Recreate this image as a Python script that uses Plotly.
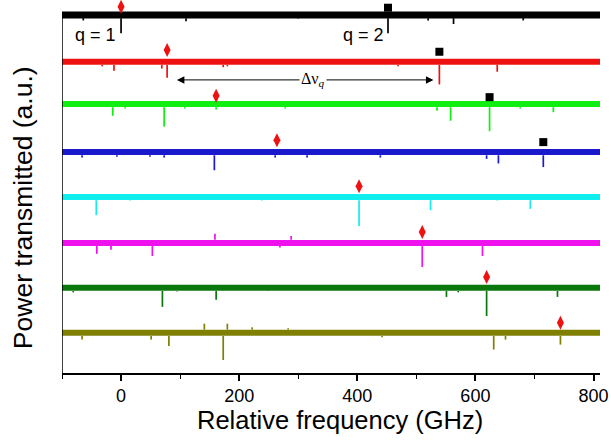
import plotly.graph_objects as go

# ---------------- data ----------------
x_range = [-100, 811]
y_range = [-7.886, 0.286]
trace_colors = ["#000000", "#ee1111", "#11ee11", "#1a1acc", "#11eeee", "#ee11ee", "#0a780a", "#7f7f00"]
offsets = [0.0, -1.03, -1.96, -3.02, -4.01, -5.02, -6.01, -7.0]

# spikes per trace: (frequency GHz, depth in a.u.; negative = dip, positive = upward)
spikes = [
    [(0, -0.40), (452, -0.40), (-64, -0.12), (110, -0.14), (520, -0.12), (563, -0.2), (681, -0.12), (300, -0.08)],
    [(78, -0.35), (539, -0.50), (-12, -0.2), (69, -0.15), (-32, -0.1), (173, -0.12), (180, -0.1), (469, -0.1), (637, -0.22)],
    [(73, -0.50), (624, -0.60), (558, -0.37), (-14, -0.26), (161, -0.12), (535, -0.15), (7, -0.1), (108, -0.1), (278, -0.1), (676, -0.1), (732, -0.18)],
    [(158, -0.40), (715, -0.33), (639, -0.25), (619, -0.15), (-66, -0.12), (261, -0.12), (-7, -0.1), (73, -0.12), (315, -0.12), (439, -0.12), (49, -0.1)],
    [(-42, -0.40), (403, -0.64), (524, -0.29), (693, -0.26), (15, -0.08), (239, -0.08), (637, -0.08)],
    [(-41, -0.24), (-17, -0.15), (53, -0.29), (510, -0.53), (612, -0.29), (269, -0.1), (159, 0.2), (288, 0.15)],
    [(70, -0.42), (161, -0.26), (619, -0.62), (551, -0.2), (739, -0.2), (-81, -0.1), (95, -0.08), (571, -0.1), (249, -0.06)],
    [(173, -0.60), (631, -0.37), (744, -0.26), (81, -0.29), (-66, -0.15), (51, -0.15), (141, 0.2), (180, 0.2), (222, 0.12), (283, 0.1), (442, -0.1), (651, -0.15)],
]

# q = 1 mode (diamonds) and q = 2 mode (squares)
q1_freq = [0, 78, 161, 264, 403, 510, 619, 744]
q1_height = [0.18, 0.26, 0.18, 0.26, 0.24, 0.24, 0.24, 0.22]
q2_freq = [452, 539, 624, 715]
q2_height = [0.16, 0.22, 0.15, 0.22]

x_title = "Relative frequency (GHz)"
y_title = "Power transmitted (a.u.)"

FONT = "Liberation Sans, Arial, sans-serif"

fig = go.Figure()
band_half = 0.07
for i, (col, off) in enumerate(zip(trace_colors, offsets)):
    fig.add_trace(go.Scatter(x=x_range, y=[off, off], mode="lines",
                             line=dict(color=col, width=7 if i == 0 else 6),
                             hoverinfo="skip", showlegend=False))
    xs, ys = [], []
    for f, d in spikes[i]:
        start = off + (band_half if d > 0 else -band_half)
        xs += [f, f, None]
        ys += [start, off + d, None]
    fig.add_trace(go.Scatter(x=xs, y=ys, mode="lines",
                             line=dict(color=col, width=1.7),
                             hoverinfo="skip", showlegend=False))

fig.add_trace(go.Scatter(x=q1_freq, y=[o + h for o, h in zip(offsets, q1_height)],
                         mode="markers", cliponaxis=False,
                         marker=dict(symbol="diamond-tall", size=10, color="#ee1111"),
                         showlegend=False))
fig.add_trace(go.Scatter(x=q2_freq, y=[o + h for o, h in zip(offsets[:4], q2_height)],
                         mode="markers", cliponaxis=False,
                         marker=dict(symbol="square", size=8, color="#000000"),
                         showlegend=False))

# left axis line (starts at the top trace, like the reference)
fig.add_shape(type="line", xref="x", yref="y", x0=x_range[0], x1=x_range[0],
              y0=y_range[0], y1=0.044, line=dict(color="#000", width=1.5))

# double arrow for mode spacing
arrow_y = -1.43
fig.add_annotation(x=529, y=arrow_y, ax=92, ay=arrow_y, xref="x", yref="y", axref="x", ayref="y",
                   showarrow=True, arrowhead=2, startarrowhead=2, arrowside="end+start",
                   arrowsize=1.5, arrowwidth=1, arrowcolor="#000000", text="")
fig.add_annotation(x=325, y=arrow_y, xref="x", yref="y", showarrow=False,
                   text="Δν<sub><i>q</i></sub>", bgcolor="#ffffff",
                   font=dict(family="Liberation Serif, Times New Roman, serif", size=16, color="#000"))
fig.add_annotation(x=-44, y=-0.44, xref="x", yref="y", showarrow=False, text="q = 1",
                   font=dict(family=FONT, size=18, color="#000"))
fig.add_annotation(x=411, y=-0.44, xref="x", yref="y", showarrow=False, text="q = 2",
                   font=dict(family=FONT, size=18, color="#000"))

# axis titles
fig.add_annotation(x=0.517, y=-0.127, xref="paper", yref="paper", showarrow=False,
                   text=x_title, xanchor="center", yanchor="middle",
                   font=dict(family=FONT, size=25.5, color="#000"))
fig.add_annotation(x=-0.0725, y=0.447, xref="paper", yref="paper", showarrow=False,
                   text=y_title, textangle=-90, xanchor="center", yanchor="middle",
                   font=dict(family=FONT, size=26.5, color="#000"))

fig.update_layout(
    width=611, height=441,
    margin=dict(l=62, r=11, t=2, b=68),
    paper_bgcolor="#ffffff", plot_bgcolor="#ffffff",
    font=dict(family=FONT, color="#000"),
    xaxis=dict(range=x_range, showgrid=False, zeroline=False, automargin=False,
               showline=True, linecolor="#000", linewidth=1.5,
               ticks="outside", ticklen=6, tickwidth=1.5, tickcolor="#000",
               tickvals=[0, 200, 400, 600, 800],
               minor=dict(ticks="outside", ticklen=4, tickwidth=1.2, tickcolor="#000", dtick=100, tick0=0),
               tickfont=dict(family=FONT, size=18)),
    yaxis=dict(range=y_range, showgrid=False, zeroline=False, automargin=False,
               showline=False, showticklabels=False, ticks=""),
)

fig.write_html("out.html", config={"displayModeBar": False},
               post_script="document.body.style.margin='0';document.body.style.overflow='hidden';")
